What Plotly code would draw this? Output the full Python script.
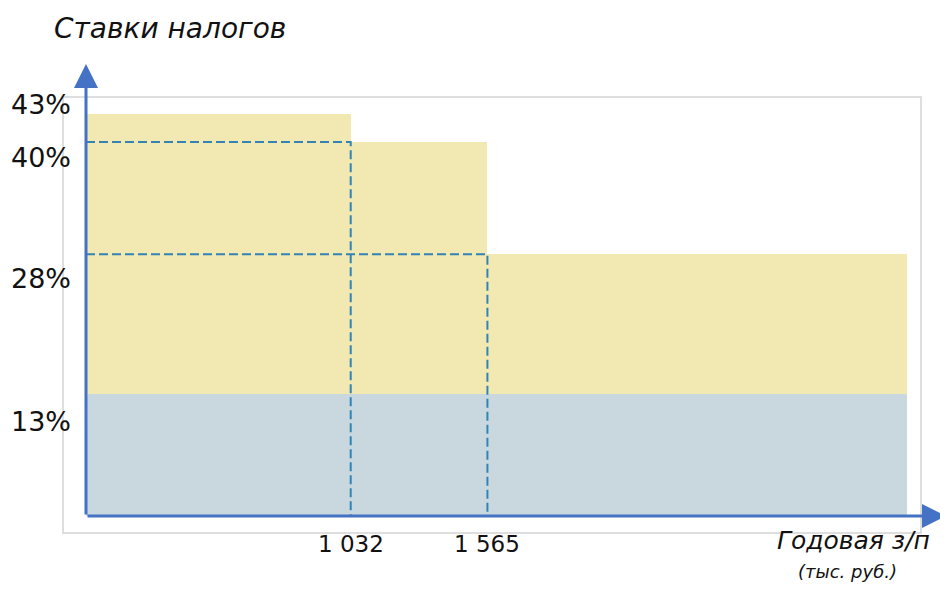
import plotly.graph_objects as go

# ---- data ----
bracket_edges = [0, 1032, 1565, 3200]        # thousand rubles
bracket_rates = [43, 40, 28]                 # total rate per bracket, %
base_rate = 13                               # base income tax, %
threshold_values = [1032, 1565]
threshold_rates = [40, 28]
threshold_labels = ["1 032", "1 565"]
rate_labels = ["43%", "40%", "28%", "13%"]
rate_label_values = [43, 40, 28, 13]

# ---- pixel calibration (page body has an 8px margin) ----
OFF = 8
W, H = 948 - OFF, 592 - OFF
kx = 0.2565       # px per thousand rub
ky = 9.35         # px per %
ox, oy = 86 - OFF, 516 - OFF   # origin in figure pixels
x_range = [-ox / kx, (W - ox) / kx]
y_range = [-(H - oy) / ky, oy / ky]


def px_x(p):  # reference page pixel -> data x
    return (p - OFF - ox) / kx


def px_y(p):  # reference page pixel -> data y
    return (oy - (p - OFF)) / ky


def paper_x(p):
    return (p - OFF) / W


def paper_y(p):
    return 1 - (p - OFF) / H


YELLOW = "#F2E8B1"
BLUE_BAND = "#C8D8DE"
AXIS_BLUE = "#4472C4"
DASH_BLUE = "#3383B5"
FONT = "DejaVu Sans"

fig = go.Figure()

mids = [(bracket_edges[i] + bracket_edges[i + 1]) / 2 for i in range(len(bracket_rates))]
widths = [bracket_edges[i + 1] - bracket_edges[i] for i in range(len(bracket_rates))]

fig.add_trace(go.Bar(
    x=mids, y=[r - base_rate for r in bracket_rates], base=base_rate, width=widths,
    marker=dict(color=YELLOW, line=dict(width=0)), hoverinfo="skip", showlegend=False))
fig.add_trace(go.Bar(
    x=[(bracket_edges[0] + bracket_edges[-1]) / 2], y=[base_rate],
    width=[bracket_edges[-1] - bracket_edges[0]],
    marker=dict(color=BLUE_BAND, line=dict(width=0)), hoverinfo="skip", showlegend=False))

for tv, tr in zip(threshold_values, threshold_rates):
    fig.add_trace(go.Scatter(
        x=[0, tv, tv], y=[tr, tr, 0], mode="lines",
        line=dict(color=DASH_BLUE, width=2, dash="9px,4px"),
        hoverinfo="skip", showlegend=False))

# frame
fig.add_shape(type="rect", xref="x", yref="y",
              x0=px_x(63), x1=px_x(921), y0=px_y(533), y1=px_y(97),
              line=dict(color="#D3D3D3", width=1.5), layer="below")

# axes with arrows
fig.add_annotation(x=0, y=px_y(64), ax=0, ay=0, xref="x", yref="y", axref="x", ayref="y",
                   showarrow=True, arrowhead=2, arrowsize=1.6, arrowwidth=3, arrowcolor=AXIS_BLUE, text="")
fig.add_annotation(x=px_x(946), y=0, ax=0, ay=0, xref="x", yref="y", axref="x", ayref="y",
                   showarrow=True, arrowhead=2, arrowsize=1.6, arrowwidth=3, arrowcolor=AXIS_BLUE, text="")

# rate labels
rate_shifts = [9, -15, -24, -27]
for lbl, val, sh in zip(rate_labels, rate_label_values, rate_shifts):
    fig.add_annotation(x=paper_x(73), xref="paper", y=val, yref="y", yshift=sh,
                       text=lbl, showarrow=False, xanchor="right", yanchor="middle",
                       font=dict(family=FONT, size=27, color="#111111"))

# threshold labels
for lbl, tv in zip(threshold_labels, threshold_values):
    fig.add_annotation(x=tv, xref="x", y=paper_y(544), yref="paper", text=lbl,
                       showarrow=False, xanchor="center", yanchor="middle",
                       font=dict(family=FONT, size=23, color="#111111"))

# titles
fig.add_annotation(x=paper_x(170), y=paper_y(29), xref="paper", yref="paper",
                   text="<i>Ставки налогов</i>", showarrow=False, xanchor="center", yanchor="middle",
                   font=dict(family=FONT, size=28, color="#111111"))
fig.add_annotation(x=paper_x(853), y=paper_y(540), xref="paper", yref="paper",
                   text="<i>Годовая з/п</i>", showarrow=False, xanchor="center", yanchor="middle",
                   font=dict(family=FONT, size=25, color="#111111"), borderpad=0)
fig.add_annotation(x=paper_x(847), y=paper_y(571), xref="paper", yref="paper",
                   text="<i>(тыс. руб.)</i>", showarrow=False, xanchor="center", yanchor="middle",
                   font=dict(family=FONT, size=18, color="#111111"), borderpad=0)

fig.update_layout(
    width=W, height=H, autosize=False,
    margin=dict(l=0, r=0, t=0, b=0, pad=0),
    paper_bgcolor="white", plot_bgcolor="white",
    barmode="overlay", bargap=0,
    xaxis=dict(range=x_range, visible=False, fixedrange=True),
    yaxis=dict(range=y_range, visible=False, fixedrange=True),
)

fig.write_html("out.html")
